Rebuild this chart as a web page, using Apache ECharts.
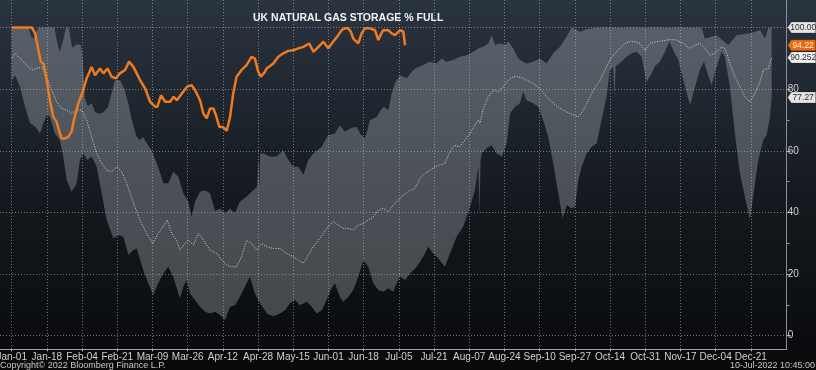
<!DOCTYPE html>
<html><head><meta charset="utf-8">
<script src="https://cdn.jsdelivr.net/npm/echarts@6/dist/echarts.min.js"></script>
<style>html,body{margin:0;padding:0;background:#0a0b0d;}#c{width:816px;height:370px;}</style>
</head><body><div id="c"></div>
<script>
// ---- data (x = day of year, 0 = Jan-01) ----
const xTickLabels = ['Jan-01','Jan-18','Feb-04','Feb-21','Mar-09','Mar-26','Apr-12','Apr-28','May-15','Jun-01','Jun-18','Jul-05','Jul-21','Aug-07','Aug-24','Sep-10','Sep-27','Oct-14','Oct-31','Nov-17','Dec-04','Dec-21'];
const tickSpanDays = 354;
const yLabelValues = [0,20,40,60,80];
const yTickValues = [0,20,40,60,80,100];
const yMinorTickValues = [10,30,50,70,90];

const bandMax = [[0,100],[8,100],[9.5,96.8],[10.5,96.4],[12,99],[13,100],[20.5,100],[21.5,96],[23,92],[24.7,96],[26,100],[27.3,100],[28.9,93.5],[31,94.5],[33,94.5],[34,90],[35.1,77],[36.5,74.5],[38.3,75.4],[40,72.5],[42,72],[44,72.5],[46,74],[48,79],[49.5,83],[51.9,82.9],[54,80],[56,75],[57.5,70],[59.9,64.5],[61.4,63.5],[63,64.5],[64.7,62.4],[67,60.2],[69.4,56],[71,53],[72.6,49.5],[74.9,49.4],[77.4,53.2],[79.8,51.6],[82.2,46.2],[84.6,43.5],[86.2,38.6],[87.8,43.5],[90.2,46.7],[92.6,47.2],[95,46.2],[97.4,40.5],[99.8,41.3],[102.2,39.7],[104.6,41.3],[106.9,39.7],[109.3,43.5],[112.5,45.1],[115.7,47.2],[117.5,48.3],[118.2,58],[118.6,48],[119,59.1],[120.5,59.1],[123.7,58.1],[126.9,58.1],[130.1,60.2],[132.5,57],[134.9,54.8],[137.3,54.8],[139.7,52.1],[142.1,57],[144.5,59.1],[148.5,61.3],[151.6,65.1],[154.8,65.6],[157.2,68.3],[159.6,66.2],[162,67.2],[165.2,67.8],[166.8,65.6],[169.2,64],[171.6,69.9],[174.8,71],[178,74.3],[180.4,73.2],[182,78.6],[183.6,82],[186,84.5],[189.2,83.5],[192.4,86.2],[194.8,87.2],[197.1,87.8],[200.3,88.9],[203.5,88.3],[205.9,89.9],[208.3,88.9],[211.5,89.4],[214.7,90.5],[217.9,91],[221.1,92.1],[223.5,93.2],[225.9,93.7],[228.3,94.8],[229.9,97.5],[231.5,94.3],[233.9,94.8],[236.3,94.3],[237.9,95.4],[240.2,93.2],[242.6,89.9],[245,88.9],[246.6,88.3],[249.8,88.9],[253,89.9],[256.2,88.3],[259.4,91.6],[262.6,93.7],[265.8,97],[268.2,100],[272.2,98.6],[275.4,99.4],[280.2,100],[330.4,100],[332,96.4],[337.6,97.5],[343.2,94.3],[347.2,97.5],[353.6,98.1],[358.4,99.1],[360.8,96.4],[362.4,99.7],[364,100]];

const bandMin = [[0,82.9],[1.6,84.5],[4,80.8],[6.4,74.3],[8.8,68.9],[11.2,67.8],[13.6,65.6],[15.2,68.9],[16.8,71.6],[18.3,71],[20.7,65.6],[23.1,63.5],[24.7,58.1],[26.3,50.5],[28.7,46.7],[31.1,49.4],[32.7,57],[34.3,59.1],[36.2,57],[38.3,58.1],[40.7,54.8],[43.1,46.2],[45.5,37.5],[48.7,31.6],[51.1,32.6],[53.5,32.1],[55.9,26.2],[58.3,27.8],[59.9,28.3],[63,21.3],[65.4,17],[67.8,13.2],[70.2,17],[72.6,20.2],[75,22.4],[77.4,19.1],[80.6,12.1],[82.2,15.9],[83.8,18.1],[85.4,13.7],[87.8,11.6],[90.2,9.4],[92.6,7.8],[95,7.2],[97.4,7.8],[99.8,6.7],[102.2,5.1],[104.6,9.4],[107,9.9],[109.3,12.6],[111.7,15.9],[114.1,19.1],[116.5,13.7],[118.9,10.5],[121.3,8.3],[122.1,7.2],[125.3,6.2],[128.5,7.2],[130.9,8.3],[133.3,10.5],[135.7,11.6],[138.1,9.9],[141.3,11],[143.7,9.4],[146.1,7.2],[148.5,8.3],[150.8,11.6],[153.2,15.4],[154.8,17],[157.2,12.6],[158.8,11],[161.2,12.6],[163.6,14.8],[166,19.1],[168.4,24.5],[170.8,22.4],[173.2,17],[175.6,14.8],[178,14.3],[180.4,15.4],[182.8,14.3],[183.6,15.9],[186,19.1],[188.4,18.1],[190.8,20.2],[194,22.4],[197.1,25.6],[199.5,28.9],[201.9,26.7],[204.3,25.1],[207.5,22.4],[209.9,26.7],[213.1,32.1],[216.3,35.4],[219.5,41.8],[221.9,47.2],[223.5,55],[224,39.1],[224.6,57],[225.1,59.1],[227.5,60.8],[229.9,61.8],[232.3,59.1],[234.7,58.1],[237.1,62.4],[238.7,72.1],[241,74.3],[243.4,75.4],[245,79.1],[246.6,76.4],[249.8,75.4],[252.2,74.3],[254.6,69.9],[257,64.5],[259.4,55.9],[261.8,46.2],[263.9,38.1],[265.8,42.4],[268.2,41.3],[269.8,41.8],[271.4,50.5],[273,54.8],[275.4,59.1],[277.8,61.3],[280.2,62.4],[282.5,69.9],[284.9,77.5],[286.5,86.2],[288.1,87.2],[288.7,77],[289.3,87.5],[290.1,87.8],[292.1,88.9],[294.5,90.5],[296.9,91.6],[299.3,92.1],[301.7,90.5],[304.1,82.4],[306.5,85.1],[308.1,87.5],[310.5,88.9],[312.9,92.1],[315,95.4],[316.9,92.6],[319.3,89.4],[321.7,82.9],[324.9,74.8],[327.3,80.8],[329.6,86.2],[331.6,88.9],[333.6,84.5],[335.2,81.3],[337.6,87.2],[340,92.1],[341.6,90.5],[344,80.8],[346.4,65.6],[348.8,52.6],[351.2,45.1],[353.6,37.5],[356,49.4],[357.6,57],[360,63.5],[361.6,65.1],[363.2,71],[364,77.27]];

const avgLine = [[0,89.9],[1.6,91.6],[4,89.9],[6.4,88.3],[9.6,86.2],[12,86.7],[14.4,87.2],[16.8,84],[19.1,79.7],[21.5,75.9],[23.9,73.7],[26.3,73.2],[28.7,72.1],[31.1,73.2],[33.5,73.2],[35.9,69.9],[38.3,64.5],[40.7,59.1],[43.1,55.9],[45.5,53.7],[47.9,53.2],[50.3,54.8],[52.7,53.2],[55.1,49.4],[57.5,44.5],[59.5,41],[61.5,37.5],[64.6,33.2],[67.5,29.9],[70.2,33.2],[72.6,35.4],[74.5,37.5],[76.6,33.2],[79,31],[80.6,27.8],[83,29.9],[84.6,31],[87,29.4],[89.4,33.2],[91.8,31],[95,27.8],[98.2,26.7],[100.6,24.5],[103,22.9],[105.3,22.4],[107.7,22.4],[110.1,25.6],[112.5,31],[114.9,29.9],[117.3,27.8],[119.7,29.9],[122.1,28.9],[125.3,28.3],[128.5,28.3],[131.7,26.7],[134.9,25.6],[137.3,24.5],[139.7,23.5],[142.1,26.2],[144.5,28.9],[146.9,31],[149.3,33.2],[151.6,35.4],[154,37],[156.4,35.9],[158.8,34.8],[161.2,34.8],[163.6,34.3],[166,35.9],[168.4,36.4],[170.8,37.5],[173.2,38.6],[175.6,40.8],[178,41.3],[180.4,40.2],[182,41.8],[184.4,43.5],[187.6,45.6],[190.8,47.2],[193.2,47.8],[195.5,51],[197.9,52.6],[200.3,53.7],[202.7,54.8],[205.1,55.4],[207.5,55.9],[209.9,59.7],[212.3,61.8],[214.7,61.3],[217.1,63.5],[219.5,65.6],[221.9,68.3],[223.5,69.9],[224.3,68.9],[225.9,73.7],[228.3,77.5],[230.7,79.7],[233.1,79.1],[235.5,80.8],[237.9,82.9],[240.2,84],[242.6,84],[245,83.5],[246.6,82.9],[249.8,81.8],[253,80.2],[256.2,77.5],[259.4,75.4],[262.6,73.7],[265.8,72.6],[269,71.6],[271.4,71],[273.8,73.2],[276.2,76.4],[278.6,79.7],[281.8,82.9],[284.1,86.2],[286.5,89.4],[288.9,91.6],[291.3,93.2],[293.7,94.8],[296.1,95.4],[298.5,95.4],[300.9,94.8],[303.3,92.6],[305.7,94.8],[308.9,95.4],[312.1,95.7],[315.3,96.1],[318.5,95.9],[321.7,94.8],[324.9,93.2],[327.3,94.3],[329.6,94.8],[332,93.2],[334.4,91],[336.8,91.6],[340,93.7],[341.6,93.2],[344,88.3],[346.4,84],[348.8,80.8],[351.2,77.5],[353.6,75.9],[356,78.6],[358.4,82.4],[360,86.2],[362.4,86.7],[364,90.252]];

const storage2022 = [[0,100],[9.6,100],[11.2,98.1],[12.8,92.6],[13.9,88.9],[15.2,88.3],[16.8,82.9],[18.3,76.4],[19.9,71],[21.5,69.4],[23.1,65.6],[23.9,64],[25.5,64],[27.1,64.5],[27.9,65.1],[28.7,66.2],[29.8,70],[31.9,75.4],[34,79.1],[35.9,83.5],[37.2,85.5],[38.3,87.2],[39.9,84.5],[42.3,86.7],[43.9,85.1],[45.9,86.7],[47.9,84],[49.9,83.5],[51.8,85.1],[54.3,86.2],[56.2,88.9],[58.3,87.2],[61.5,82.9],[63.9,80.2],[66.3,75.9],[68.7,74.3],[69.8,74.3],[71.5,78],[73.5,75.9],[75.9,75.9],[77.5,77.5],[79.1,76.4],[81.5,78.6],[83.9,80.7],[86.2,81.3],[87.8,79.7],[90.2,76.4],[91.8,72.1],[93.4,70.5],[95,73.7],[96.6,73.7],[97.8,71.6],[99.4,67.8],[101.4,67.6],[103,66.5],[104.6,71],[106.1,78.6],[107.7,84],[110.1,86.2],[112.5,87.8],[114.9,90.5],[116.5,89.9],[118.1,85.6],[119.4,84],[121.3,85.6],[122.1,86.7],[125.3,88.3],[127.7,90.5],[130.1,91.6],[132.5,92.4],[134.9,92.6],[137.3,93.2],[139.7,93.7],[142.5,94.8],[144.5,92.1],[146.9,93.7],[149.3,95.4],[151.6,93.2],[154,95.4],[156.4,97.5],[158,99.1],[159.5,99.7],[161.2,99.7],[162.5,98.5],[163.6,96.4],[166,94.8],[167.6,98.1],[169.2,99.7],[171.6,99.7],[174,99.1],[175.6,95.9],[177,98],[178,99.1],[180.4,99.1],[182,98.1],[183.6,97.5],[186,99.1],[187.6,98.6],[188.4,94.22]];

const titleText = 'UK NATURAL GAS STORAGE % FULL';
const copyrightText = 'Copyright\u00a9 2022 Bloomberg Finance L.P.';
const stampText = '10-Jul-2022 10:45:00';

// ---- chart ----
const X_MIN = -5.6, X_MAX = 371.2, Y_MIN = -4.4, Y_MAX = 108.9;
const tickStep = tickSpanDays / (xTickLabels.length - 1);
const xTickValues = xTickLabels.map((_, i) => i * tickStep);
const last = a => a[a.length - 1][1];
const labelFont = '"Liberation Sans Narrow","Liberation Sans",Arial,sans-serif';
const gridLine = { color: 'rgba(205,210,215,0.5)', width: 1, type: [1, 2] };
const tagPath = 'path://M0,5L4,0L30,0L30,10L4,10Z';
const gridBox = { left: 0, right: 29.3, top: 0, bottom: 20.7, containLabel: false, outerBoundsMode: 'none' };

function tag(value, digits, fill, textColor) {
  return {
    coord: [X_MAX, value],
    symbol: tagPath, symbolSize: [28, 11], symbolOffset: [15, 0],
    itemStyle: { color: fill, borderColor: 'rgba(0,0,0,0.3)', borderWidth: 0.5 },
    label: { show: true, position: 'inside', offset: [1.5, 0.5], formatter: value.toFixed(digits),
             color: textColor, fontSize: 8.5, fontFamily: labelFont }
  };
}

const chart = echarts.init(document.getElementById('c'), null, { renderer: 'canvas' });
chart.setOption({
  animation: false,
  backgroundColor: { type: 'linear', x: 0, y: 0, x2: 0, y2: 1,
    colorStops: [{ offset: 0, color: '#2a3440' }, { offset: 0.5, color: '#161b21' }, { offset: 1, color: '#08090b' }] },
  title: { text: titleText, left: 248, top: 8,
    textStyle: { color: '#f2f2f2', fontSize: 10.5, fontWeight: 'bold', fontFamily: '"Liberation Sans",Arial,sans-serif' } },
  grid: [Object.assign({}, gridBox), Object.assign({}, gridBox)],
  xAxis: [{
    type: 'value', gridIndex: 0, min: X_MIN, max: X_MAX,
    axisLine: { show: true, onZero: false, lineStyle: { color: '#9a9ea3', width: 1 } },
    axisTick: { show: true, customValues: xTickValues, length: 2, lineStyle: { color: '#c0c0c0' } },
    axisLabel: { customValues: xTickValues, color: '#d0d0d0', fontSize: 10, fontFamily: labelFont, margin: 3,
      formatter: v => xTickLabels[Math.round(v / tickStep)] || '' },
    splitLine: { show: true, lineStyle: gridLine }
  }, {
    type: 'value', gridIndex: 1, min: X_MIN, max: X_MAX, show: false
  }],
  yAxis: [{
    type: 'value', gridIndex: 0, position: 'right', min: Y_MIN, max: Y_MAX,
    axisLine: { show: true, onZero: false, lineStyle: { color: '#8c9096', width: 1 } },
    axisTick: { show: true, customValues: yTickValues, length: 4, lineStyle: { color: '#b0b0b0' } },
    axisLabel: { customValues: yLabelValues, color: '#d0d0d0', fontSize: 10, fontFamily: labelFont, margin: 1 },
    splitLine: { show: true, lineStyle: gridLine }
  }, {
    type: 'value', gridIndex: 1, position: 'right', min: Y_MIN, max: Y_MAX,
    axisLine: { show: false, onZero: false },
    axisTick: { show: true, customValues: yMinorTickValues, length: 3, lineStyle: { color: '#8c9096' } },
    axisLabel: { show: false },
    splitLine: { show: false }
  }],
  series: [{
    type: 'custom', name: 'range', coordinateSystem: 'cartesian2d', silent: true, z: 1,
    data: [[0, 0]], encode: { x: 0, y: 1 },
    renderItem: (params, api) => {
      const pts = bandMax.map(p => api.coord(p)).concat(bandMin.slice().reverse().map(p => api.coord(p)));
      return { type: 'polygon', shape: { points: pts }, style: { fill: 'rgba(190,196,202,0.32)' } };
    }
  }, {
    type: 'line', name: 'average', data: avgLine, showSymbol: false, symbol: 'none', z: 3,
    lineStyle: { color: 'rgba(235,235,235,0.85)', width: 1, type: [1, 1.5] },
    markPoint: { silent: true, animation: false, data: [
      tag(last(bandMax), 2, '#e4e4e4', '#2a2a2a'),
      tag(last(avgLine), 3, '#f2f2f2', '#2a2a2a'),
      tag(last(bandMin), 2, '#e4e4e4', '#2a2a2a')
    ] }
  }, {
    type: 'line', name: '2022', data: storage2022, showSymbol: false, symbol: 'none', z: 4,
    lineStyle: { color: '#f07a1e', width: 2.5 },
    markPoint: { silent: true, animation: false, data: [ tag(last(storage2022), 2, '#ee6a10', '#fff3e0') ] }
  }, {
    type: 'line', name: 'minorAxisHolder', xAxisIndex: 1, yAxisIndex: 1, data: [], silent: true
  }],
  graphic: [
    { type: 'text', left: 0, top: 361, style: { text: copyrightText, fill: '#c8c8c8', fontSize: 9, fontFamily: labelFont } },
    { type: 'text', right: 1, top: 361, style: { text: stampText, fill: '#c8c8c8', fontSize: 9, fontFamily: labelFont } }
  ]
});
</script>
</body></html>
